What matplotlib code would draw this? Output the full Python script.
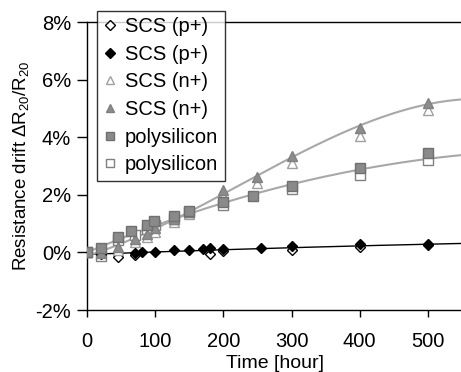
import numpy as np
import matplotlib
matplotlib.use("Agg")
import matplotlib.pyplot as plt
from matplotlib.ticker import FuncFormatter

plt.rcParams['font.family'] = ['Liberation Sans', 'DejaVu Sans']
plt.rcParams['mathtext.fontset'] = 'custom'
plt.rcParams['mathtext.rm'] = 'Liberation Sans'
plt.rcParams['mathtext.it'] = 'Liberation Sans:italic'

# SCS (p+) open diamonds
pA_t = [0, 20, 45, 70, 180, 200, 300, 400, 500]
pA_v = [0, -0.08, -0.15, -0.1, -0.05, 0.05, 0.1, 0.2, 0.25]
# SCS (p+) filled diamonds
pB_t = [0, 20, 70, 80, 100, 128, 150, 170, 180, 200, 255, 300, 400, 500]
pB_v = [0, -0.05, -0.02, 0.0, 0.03, 0.08, 0.1, 0.12, 0.14, 0.13, 0.15, 0.22, 0.28, 0.3]
# SCS (n+) open triangles
nA_t = [0, 20, 45, 70, 88, 100, 128, 150, 200, 250, 300, 400, 500]
nA_v = [0, -0.08, 0.1, 0.35, 0.55, 0.72, 1.05, 1.35, 1.95, 2.4, 3.1, 4.04, 4.94]
# SCS (n+) filled triangles
nB_t = [0, 20, 45, 70, 88, 100, 128, 150, 200, 250, 300, 400, 500]
nB_v = [0, -0.03, 0.2, 0.45, 0.65, 0.85, 1.15, 1.4, 2.15, 2.63, 3.35, 4.31, 5.18]
# polysilicon filled squares
sA_t = [0, 20, 45, 65, 88, 98, 128, 150, 200, 243, 300, 400, 500]
sA_v = [0, 0.14, 0.52, 0.75, 0.95, 1.09, 1.27, 1.44, 1.76, 1.97, 2.32, 2.92, 3.44]
# polysilicon open squares
sB_t = [0, 20, 45, 70, 88, 100, 128, 150, 200, 300, 400, 500]
sB_v = [0, -0.13, 0.43, 0.6, 0.8, 0.95, 1.15, 1.4, 1.65, 2.19, 2.69, 3.21]

xticks = [0, 100, 200, 300, 400, 500]
yticks = [-2, 0, 2, 4, 6, 8]

fig = plt.figure(figsize=(4.61, 3.72), dpi=100)
ax = fig.add_axes([87/461, 1-310/372, 375/461, 288/372])
ax.set_xlim(0, 550)
ax.set_ylim(-2, 8)

tt = np.linspace(0, 550, 200)
def trend(ts, vs, color, lw, deg):
    c = np.polyfit(ts, vs, deg)
    ax.plot(tt, np.polyval(c, tt), color=color, lw=lw, zorder=2)

trend(pA_t + pB_t, pA_v + pB_v, 'black', 1.0, 2)
trend(nB_t, nB_v, '#a8a8a8', 1.5, 3)
trend(sA_t + sB_t, sA_v + sB_v, '#a8a8a8', 1.5, 2)

ms = 7
h1, = ax.plot(pA_t, pA_v, 'D', ms=5.5, mfc='white', mec='black', mew=1.0, ls='none', zorder=3, label='SCS (p+)')
h2, = ax.plot(pB_t, pB_v, 'D', ms=5.5, mfc='black', mec='black', mew=1.0, ls='none', zorder=4, label='SCS (p+)')
h3, = ax.plot(nA_t, nA_v, '^', ms=ms, mfc='white', mec='#a0a0a0', mew=1.0, ls='none', zorder=3, label='SCS (n+)')
h4, = ax.plot(nB_t, nB_v, '^', ms=ms, mfc='#8c8c8c', mec='#808080', mew=1.0, ls='none', zorder=4, label='SCS (n+)')
h5, = ax.plot(sA_t, sA_v, 's', ms=ms, mfc='#8a8a8a', mec='#707070', mew=1.0, ls='none', zorder=4, label='polysilicon')
h6, = ax.plot(sB_t, sB_v, 's', ms=ms, mfc='white', mec='#808080', mew=1.0, ls='none', zorder=3, label='polysilicon')

ax.set_xticks(xticks)
ax.set_yticks(yticks)
ax.yaxis.set_major_formatter(FuncFormatter(lambda v, p: f'{int(v)}%'))
ax.tick_params(axis='y', direction='out', length=7, width=1, labelsize=14.5, colors='black', pad=4.5)
ax.tick_params(axis='x', direction='out', length=5, width=1, labelsize=14.5, colors='black', pad=11)
for s in ['left', 'bottom', 'top']:
    ax.spines[s].set_linewidth(1.0)
    ax.spines[s].set_color('black')
ax.spines['right'].set_visible(False)

ax.set_xlabel('Time [hour]', fontsize=14, labelpad=3)
ax.set_ylabel(r'Resistance drift ΔR$_{20}$/R$_{20}$', fontsize=13.5, labelpad=3)

leg = ax.legend(handles=[h1, h2, h3, h4, h5, h6], loc='upper left',
                bbox_to_anchor=(97/461, 1-10.5/372), bbox_transform=fig.transFigure,
                fontsize=14.5, frameon=True, fancybox=False, handlelength=0.6,
                handletextpad=0.45, borderpad=0.33, labelspacing=0.43, borderaxespad=0,
                markerscale=0.85)
leg.get_frame().set_edgecolor('black')
leg.get_frame().set_linewidth(1.0)

fig.savefig('out.png', dpi=100)
